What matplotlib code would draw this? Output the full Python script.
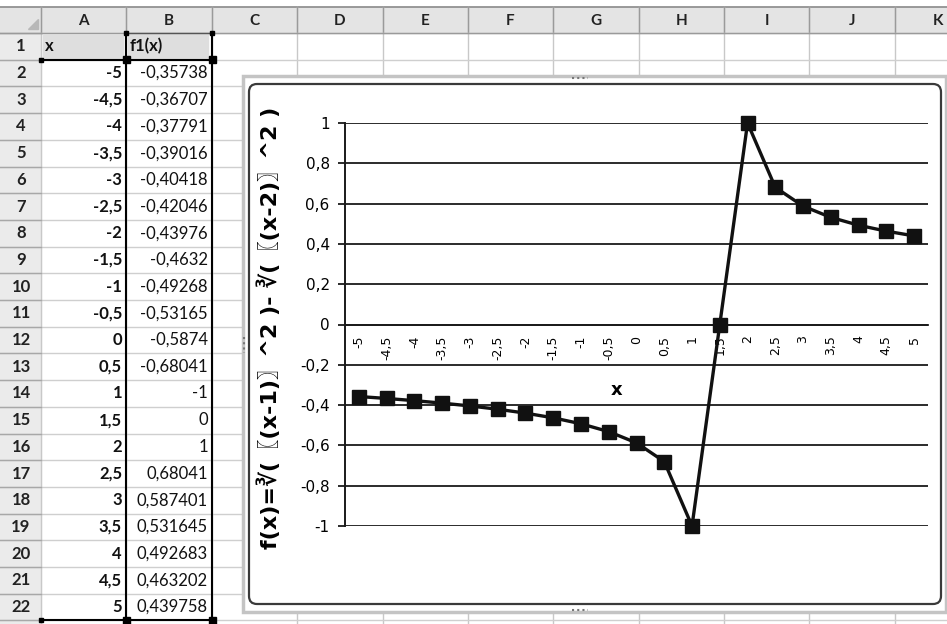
import matplotlib
matplotlib.use("Agg")
import matplotlib.pyplot as plt
from matplotlib.patches import Rectangle, FancyBboxPatch

# data from the sheet (columns A and B)
x_vals = [-5, -4.5, -4, -3.5, -3, -2.5, -2, -1.5, -1, -0.5, 0, 0.5, 1, 1.5, 2, 2.5, 3, 3.5, 4, 4.5, 5]
f1_vals = [-0.35738, -0.36707, -0.37791, -0.39016, -0.40418, -0.42046, -0.43976, -0.4632,
           -0.49268, -0.53165, -0.5874, -0.68041, -1, 0, 1, 0.68041, 0.587401, 0.531645,
           0.492683, 0.463202, 0.439758]
col_letters = ["A", "B", "C", "D", "E", "F", "G", "H", "I", "J", "K"]
y_ticks = [-1, -0.8, -0.6, -0.4, -0.2, 0, 0.2, 0.4, 0.6, 0.8, 1]
y_title = "f(x)=\u221b(\u3016(x-1)\u3017^2 )- \u221b(\u3016(x-2)\u3017^2 )"


def comma(v):
    return f"{v:g}".replace(".", ",")


W, H = 947, 624
fig = plt.figure(figsize=(W / 100, H / 100), dpi=100)
fig.patch.set_facecolor("white")

# ---- spreadsheet background, drawn in pixel coordinates ----
bg = fig.add_axes([0, 0, 1, 1])
bg.set_xlim(0, W)
bg.set_ylim(H, 0)
bg.axis("off")

col_edges = [0, 41, 126, 212, 297, 383, 468, 553, 639, 724, 809, 895, 980]
head_top, head_bot = 7, 33
row_h = 26.7
row_edges = [head_bot + i * row_h for i in range(24)]

sheet_font = "Lato"
bg.add_patch(Rectangle((0, head_top), W, head_bot - head_top, color="#e4e4e4", zorder=0))
bg.add_patch(Rectangle((0, head_bot), col_edges[1], H - head_bot, color="#ebebeb", zorder=0))
bg.plot([0, W], [head_top, head_top], color="#8a8a8a", lw=1.2)
bg.fill([28, 38, 38], [29, 29, 19], color="#b8b8b8")

for x in col_edges[1:]:
    bg.plot([x, x], [head_top, H], color="#c8c8c8", lw=1)
    bg.plot([x, x], [head_top, head_bot], color="#9a9a9a", lw=1)
for y in row_edges:
    bg.plot([0, W], [y, y], color="#cfcfcf", lw=1)
    bg.plot([0, col_edges[1]], [y, y], color="#a8a8a8", lw=1)
bg.plot([0, W], [head_bot, head_bot], color="#9a9a9a", lw=1)

for i, letter in enumerate(col_letters):
    cx = (col_edges[i + 1] + col_edges[i + 2]) / 2
    bg.text(cx, (head_top + head_bot) / 2 + 1, letter, ha="center", va="center",
            fontsize=11, fontweight="bold", family=sheet_font, color="#222")

for r in range(1, 23):
    cy = (row_edges[r - 1] + row_edges[r]) / 2
    bg.text(21, cy, str(r), ha="center", va="center", fontsize=12,
            fontweight="bold", family=sheet_font, color="#222")

# header cells
bg.add_patch(Rectangle((col_edges[1] + 2, row_edges[0] + 2), 80, row_h - 4, color="#dedede", zorder=1))
bg.add_patch(Rectangle((col_edges[2] + 2, row_edges[0] + 2), 80, row_h - 4, color="#dedede", zorder=1))
bg.text(col_edges[1] + 4, (row_edges[0] + row_edges[1]) / 2, "x", ha="left", va="center",
        fontsize=12, fontweight="bold", family=sheet_font, color="#111", zorder=3)
bg.text(col_edges[2] + 4, (row_edges[0] + row_edges[1]) / 2, "f1(x)", ha="left", va="center",
        fontsize=12, fontweight="bold", family=sheet_font, color="#111", zorder=3)

for i, (xv, fv) in enumerate(zip(x_vals, f1_vals)):
    cy = (row_edges[i + 1] + row_edges[i + 2]) / 2
    bg.text(col_edges[2] - 4, cy, comma(xv), ha="right", va="center", fontsize=12,
            fontweight="bold", family=sheet_font, color="#111", zorder=3)
    bg.text(col_edges[3] - 4, cy, comma(fv), ha="right", va="center", fontsize=12,
            family=sheet_font, color="#111", zorder=3)

# source data highlight boxes
sel_bot = row_edges[22]
bg.plot([col_edges[1], col_edges[3]], [row_edges[1], row_edges[1]], color="black", lw=1.5, zorder=4)
bg.plot([col_edges[1], col_edges[3]], [sel_bot, sel_bot], color="black", lw=1.5, zorder=4)
bg.plot([col_edges[2], col_edges[2]], [row_edges[0], sel_bot], color="black", lw=1.5, zorder=4)
bg.plot([col_edges[3], col_edges[3]], [row_edges[0], sel_bot], color="black", lw=1.5, zorder=4)
bg.plot([col_edges[2], col_edges[3]], [row_edges[0], row_edges[0]], color="#555", lw=1, zorder=4)
for hx, hy, s in [(col_edges[2], row_edges[1], 7), (col_edges[3], row_edges[1], 7),
                  (col_edges[2], sel_bot, 7), (col_edges[3], sel_bot, 7),
                  (col_edges[1], row_edges[1], 4), (col_edges[1], sel_bot, 4),
                  (col_edges[2], row_edges[0], 4), (col_edges[3], row_edges[0], 4)]:
    bg.add_patch(Rectangle((hx - s / 2, hy - s / 2), s, s, color="black", zorder=5))

# chart object frame
bg.add_patch(Rectangle((243, 76), 703, 536, facecolor="white", edgecolor="#c4c4c4", lw=2.5, zorder=6))
bg.add_patch(FancyBboxPatch((249, 84), 692, 520, boxstyle="round,pad=0,rounding_size=8",
                            facecolor="white", edgecolor="#3a3a3a", lw=1.6, zorder=7))
for hx, hy in [(580, 78), (580, 610)]:
    bg.plot([hx - 8, hx + 8], [hy, hy], color="#777", lw=1.5, ls=(0, (1, 1.5)), zorder=8)
bg.plot([244, 244], [337, 353], color="#777", lw=1.5, ls=(0, (1, 1.5)), zorder=8)

# ---- chart ----
left, right, top, bottom = 345, 928, 123, 526
ax = fig.add_axes([left / W, 1 - bottom / H, (right - left) / W, (bottom - top) / H])
ax.set_facecolor("none")
pos = list(range(len(x_vals)))
ax.plot(pos, f1_vals, color="#111", lw=2.4, marker="s", markersize=9.5,
        markerfacecolor="#111", markeredgecolor="#111", zorder=5, clip_on=False)
ax.set_xlim(-0.5, len(x_vals) - 0.5)
ax.set_ylim(-1, 1)
ax.set_yticks(y_ticks)
ax.set_yticklabels([comma(round(v, 1)) for v in y_ticks], fontsize=11, family="DejaVu Sans")
ax.yaxis.grid(True, color="#1a1a1a", lw=1.3)
ax.set_axisbelow(True)
ax.spines["top"].set_visible(False)
ax.spines["right"].set_visible(False)
ax.spines["left"].set_color("#1a1a1a")
ax.spines["left"].set_linewidth(1.4)
ax.spines["bottom"].set_position(("data", 0))
ax.spines["bottom"].set_color("#1a1a1a")
ax.spines["bottom"].set_linewidth(1.3)
ax.tick_params(axis="y", length=5, width=1.3, color="#1a1a1a", pad=6)
ax.set_xticks(pos)
ax.set_xticklabels([comma(v) for v in x_vals], rotation=90, fontsize=9, family="DejaVu Sans")
ax.tick_params(axis="x", length=0, pad=8)

fig.text(617 / W, 1 - 390 / H, "x", ha="center", va="center", fontsize=13,
         fontweight="bold", family="DejaVu Sans")
fig.text(269 / W, 1 - 328 / H, y_title, rotation=90, ha="center", va="center",
         fontsize=16, fontweight="bold", family=["DejaVu Sans", "Noto Sans CJK SC"])

fig.savefig("out.png", dpi=100)
